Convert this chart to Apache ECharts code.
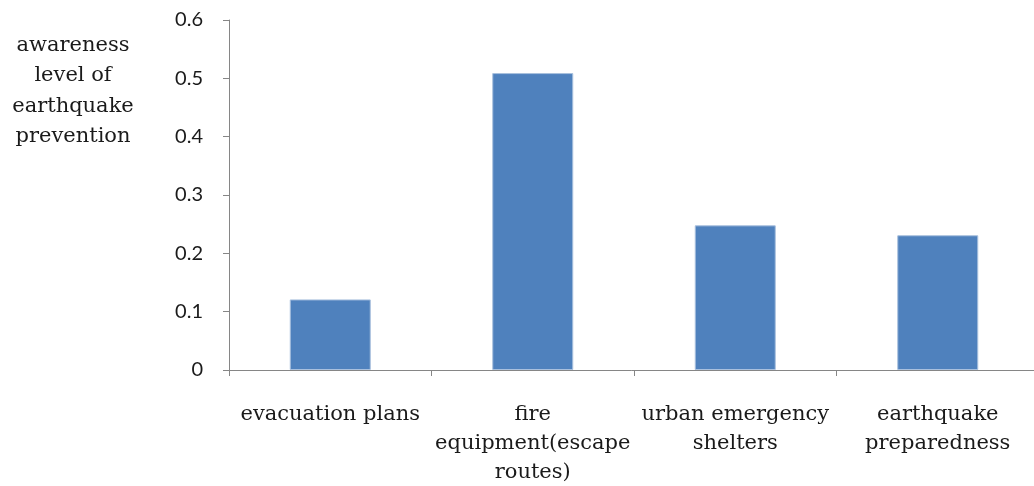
<!DOCTYPE html>
<html><head><meta charset="utf-8">
<script src="https://cdn.jsdelivr.net/npm/echarts@6/dist/echarts.min.js"></script>
<style>html,body{margin:0;padding:0;background:#fff}#c{width:1034px;height:486px}</style>
</head><body><div id="c"></div>
<script>
const categories = ["evacuation plans", "fire\nequipment(escape\nroutes)", "urban emergency\nshelters", "earthquake\npreparedness"];
const values = [0.121, 0.509, 0.248, 0.231];
const yTicks = [0, 0.1, 0.2, 0.3, 0.4, 0.5, 0.6];
const yName = "awareness\nlevel of\nearthquake\nprevention";

const chart = echarts.init(document.getElementById('c'), null, {renderer: 'canvas'});
chart.setOption({
  animation: false,
  grid: {left: 229, top: 20, bottom: 116, width: 810, outerBoundsMode: 'none', containLabel: false},
  xAxis: {
    type: 'category', data: categories,
    axisLine: {lineStyle: {color: '#868686', width: 1}},
    axisTick: {show: true, length: 6, lineStyle: {color: '#868686'}},
    axisLabel: {fontFamily: 'DejaVu Serif', fontSize: 21, color: '#1a1a1a', lineHeight: 29, margin: 30, interval: 0}
  },
  yAxis: {
    type: 'value', min: yTicks[0], max: yTicks[yTicks.length-1], interval: 0.1,
    axisLine: {show: true, lineStyle: {color: '#868686', width: 1}},
    axisTick: {show: true, length: 6, lineStyle: {color: '#868686'}},
    splitLine: {show: false},
    axisLabel: {fontFamily: 'Lato', fontSize: 20, color: '#1a1a1a', margin: 26,
      formatter: v => (Math.round(v*10)/10).toString()}
  },
  graphic: [{
    type: 'text', x: 73, y: 30,
    style: {text: yName, fontFamily: 'DejaVu Serif', fontSize: 21, lineHeight: 30.5, fill: '#1a1a1a', align: 'center', verticalAlign: 'top'}
  }],
  series: [{
    type: 'bar', data: values, barWidth: '40%',
    itemStyle: {color: '#4F81BD', borderColor: '#a9c0de', borderWidth: 1}
  }]
});
</script></body></html>
